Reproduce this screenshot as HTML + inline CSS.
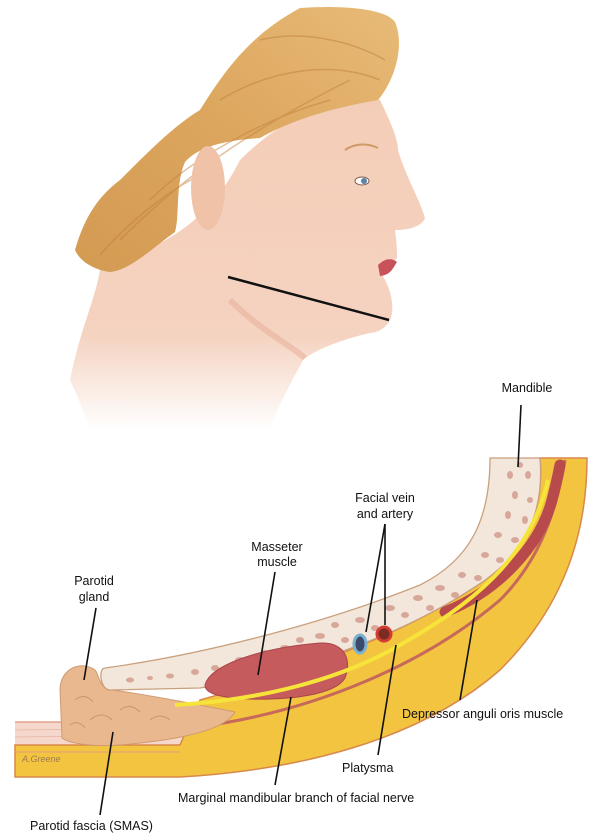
<!DOCTYPE html>
<html><head><meta charset="utf-8"><style>
html,body{margin:0;padding:0;background:#fff;}
svg{display:block}
text{font-family:"Liberation Sans",sans-serif;font-size:12.5px;fill:#111;}
</style></head><body>
<svg width="613" height="840" viewBox="0 0 613 840" xmlns="http://www.w3.org/2000/svg">
<defs>
<linearGradient id="nf" x1="0" y1="0" x2="0" y2="1"><stop offset="0" stop-color="#f4cdb7"/><stop offset="0.72" stop-color="#f5d3c1"/><stop offset="1" stop-color="#ffffff"/></linearGradient>
<linearGradient id="hr" x1="1" y1="0" x2="0" y2="1"><stop offset="0" stop-color="#e8bb78"/><stop offset="0.5" stop-color="#dca65e"/><stop offset="1" stop-color="#d39a52"/></linearGradient>
</defs>
<!-- head / neck skin -->
<path d="M100,270 C140,250 200,240 240,160 C300,100 360,95 380,100 C392,125 398,140 398,150 C405,175 420,200 425,218 C422,226 410,230 395,230 C397,245 397,252 397,258 C390,265 385,270 382,275 C392,290 395,310 390,320 C385,330 375,333 370,333 C340,340 315,350 303,360 C290,385 278,405 270,430 L90,430 C80,400 70,380 70,380 C80,330 95,300 100,270 Z" fill="url(#nf)"/>
<path d="M230,300 C260,330 290,345 305,358" stroke="#e8b39c" stroke-width="6" fill="none" opacity="0.6"/>
<!-- hair -->
<path d="M300,8 C340,5 385,8 395,22 C405,45 395,80 378,100 C350,105 300,115 260,138 C230,140 200,145 185,162 C175,185 180,215 175,232 C150,250 130,270 110,272 C95,270 80,262 75,250 C85,215 100,195 120,180 C150,150 175,125 200,110 C225,70 250,35 300,8 Z" fill="url(#hr)"/>
<path d="M150,200 C190,160 260,120 330,100 M120,240 C170,190 230,140 350,80 M260,40 C300,30 350,40 385,60 M100,255 C130,220 170,190 200,175 M220,100 C270,70 330,60 380,80" stroke="#c08040" stroke-width="1.5" fill="none" opacity="0.5"/>
<!-- ear -->
<ellipse cx="208" cy="188" rx="17" ry="42" fill="#f0c2a8"/>
<!-- eyebrow/eye -->
<path d="M345,150 C355,143 368,143 378,148" stroke="#d09a68" stroke-width="2" fill="none"/>
<ellipse cx="362" cy="181" rx="7" ry="4" fill="#fff" stroke="#7a5a50" stroke-width="1"/>
<circle cx="364" cy="181" r="3" fill="#5d83a8"/>
<!-- lips -->
<path d="M378,265 C385,258 392,258 397,262 C392,270 390,275 380,276 Z" fill="#c8525a"/>
<!-- jaw line -->
<line x1="228" y1="277" x2="389" y2="320" stroke="#111" stroke-width="2.5"/>

<!-- ============ cross section ============ -->
<path d="M15,722 L120,722 L200,720 L300,700 L300,760 L15,760 Z" fill="#f5d8cb"/>
<line x1="15" y1="722" x2="70" y2="722" stroke="#d9937a" stroke-width="1.2"/>
<path d="M15,730 L220,728 M15,737 L240,734" stroke="#e8b4a4" stroke-width="0.8"/>
<!-- yellow tissue -->
<path d="M540,458 C545,520 520,560 470,590 C400,635 300,672 200,700 L180,745 L15,745 L15,777 L180,777 C300,770 420,740 500,670 C560,610 587,540 587,458 Z" fill="#f2c440" stroke="#d8894a" stroke-width="1.5"/>
<path d="M190,728 C320,712 430,660 500,600 C535,565 555,520 565,460" stroke="#c6685a" stroke-width="3" fill="none"/>
<path d="M15,752 L180,752" stroke="#e3a07c" stroke-width="1"/>
<!-- depressor muscle -->
<path d="M445,612 C500,590 540,545 552,500 C556,485 558,475 560,465" stroke="#b94a4c" stroke-width="11" fill="none" stroke-linecap="round"/>
<!-- parotid gland -->
<path d="M62,738 L60,690 C60,668 82,660 95,670 C100,676 98,688 112,690 C150,695 200,705 235,712 C225,730 180,740 120,745 C95,747 70,744 62,738 Z" fill="#e9b88e" stroke="#d09a72" stroke-width="1"/>
<path d="M75,700 q10,-8 18,2 M90,720 q12,-10 22,0 M120,710 q10,-8 20,2 M150,720 q10,-8 20,0 M70,725 q8,-6 15,3" stroke="#cf946c" stroke-width="1" fill="none"/>
<!-- bone -->
<path d="M105,668 C200,655 320,625 420,585 C470,560 490,520 490,458 L540,458 C545,520 520,560 470,590 C400,635 300,672 200,688 L110,690 C100,690 98,668 105,668 Z" fill="#f2e7da" stroke="#c9a07e" stroke-width="1.3"/>
<g fill="#d7a79a">
<ellipse cx="130" cy="680" rx="4" ry="2.5"/><ellipse cx="150" cy="678" rx="3" ry="2"/><ellipse cx="170" cy="676" rx="4" ry="2.5"/><ellipse cx="195" cy="672" rx="4" ry="3"/>
<ellipse cx="215" cy="668" rx="4" ry="3"/><ellipse cx="240" cy="660" rx="5" ry="3"/><ellipse cx="230" cy="672" rx="3" ry="2"/><ellipse cx="265" cy="653" rx="4" ry="3"/>
<ellipse cx="285" cy="648" rx="5" ry="3"/><ellipse cx="300" cy="640" rx="4" ry="3"/><ellipse cx="320" cy="636" rx="5" ry="3"/><ellipse cx="335" cy="625" rx="4" ry="3"/>
<ellipse cx="345" cy="640" rx="4" ry="3"/><ellipse cx="360" cy="620" rx="5" ry="3"/><ellipse cx="375" cy="628" rx="4" ry="3"/><ellipse cx="390" cy="608" rx="5" ry="3"/>
<ellipse cx="405" cy="615" rx="4" ry="3"/><ellipse cx="418" cy="598" rx="5" ry="3"/><ellipse cx="430" cy="608" rx="4" ry="3"/><ellipse cx="440" cy="588" rx="5" ry="3"/>
<ellipse cx="455" cy="595" rx="4" ry="3"/><ellipse cx="462" cy="575" rx="4" ry="3"/><ellipse cx="478" cy="578" rx="4" ry="3"/><ellipse cx="485" cy="555" rx="4" ry="3"/>
<ellipse cx="500" cy="560" rx="4" ry="3"/><ellipse cx="498" cy="535" rx="4" ry="3"/><ellipse cx="515" cy="540" rx="4" ry="3"/><ellipse cx="508" cy="515" rx="3" ry="4"/>
<ellipse cx="525" cy="520" rx="3" ry="4"/><ellipse cx="515" cy="495" rx="3" ry="4"/><ellipse cx="530" cy="500" rx="3" ry="3"/><ellipse cx="510" cy="475" rx="3" ry="4"/>
<ellipse cx="528" cy="475" rx="3" ry="4"/><ellipse cx="520" cy="465" rx="3" ry="3"/>
</g>
<!-- masseter -->
<path d="M205,685 C210,665 260,648 320,643 C345,642 352,660 345,678 C335,695 290,700 250,699 C225,698 205,695 205,685 Z" fill="#c65b5e" stroke="#a8454a" stroke-width="1"/>
<!-- nerve -->
<path d="M175,705 C260,700 340,680 400,645 C470,605 530,560 548,480" stroke="#f6e43a" stroke-width="4" fill="none"/>
<!-- vessels -->
<ellipse cx="360" cy="644" rx="6" ry="9" fill="#3b4a6a" stroke="#7ab0d0" stroke-width="3"/>
<circle cx="384" cy="634" r="7" fill="#7a2b22" stroke="#d23c32" stroke-width="3"/>
<text x="22" y="762" style="font-size:9px;font-style:italic;fill:#a07a50">A.Greene</text>

<g stroke="#111" stroke-width="1.6" fill="none">
<line x1="521" y1="405" x2="518" y2="467"/>
<line x1="385" y1="524" x2="366" y2="632"/>
<line x1="385" y1="524" x2="385" y2="625"/>
<line x1="275" y1="572" x2="258" y2="675"/>
<line x1="96" y1="608" x2="84" y2="680"/>
<line x1="477" y1="600" x2="460" y2="700"/>
<line x1="396" y1="645" x2="378" y2="755"/>
<line x1="291" y1="697" x2="275" y2="785"/>
<line x1="113" y1="732" x2="100" y2="815"/>
</g>
<text x="527" y="392" text-anchor="middle">Mandible</text>
<text x="385" y="502" text-anchor="middle">Facial vein</text>
<text x="385" y="518" text-anchor="middle">and artery</text>
<text x="277" y="551" text-anchor="middle">Masseter</text>
<text x="277" y="566" text-anchor="middle">muscle</text>
<text x="94" y="585" text-anchor="middle">Parotid</text>
<text x="94" y="601" text-anchor="middle">gland</text>
<text x="402" y="718">Depressor anguli oris muscle</text>
<text x="342" y="772">Platysma</text>
<text x="178" y="802">Marginal mandibular branch of facial nerve</text>
<text x="30" y="830">Parotid fascia (SMAS)</text>
</svg>
</body></html>
